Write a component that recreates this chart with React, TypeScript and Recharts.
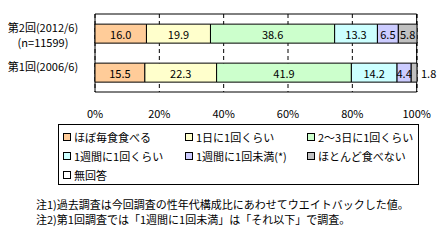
import { Bar, BarChart, CartesianGrid, LabelList, ReferenceArea, XAxis, YAxis } from "recharts";

const categories = ["第2回(2012/6)|(n=11599)", "第1回(2006/6)"];
const seriesNames = [
  "ほぼ毎食食べる",
  "1日に1回くらい",
  "2～3日に1回くらい",
  "1週間に1回くらい",
  "1週間に1回未満(*)",
  "ほとんど食べない",
  "無回答",
];
const everyMeal = [16.0, 15.5];
const oncePerDay = [19.9, 22.3];
const every2to3Days = [38.6, 41.9];
const oncePerWeek = [13.3, 14.2];
const lessThanWeekly = [6.5, 4.4];
const rarely = [5.8, 1.8];
const noAnswer = [0, 0];
const xTicks = [0, 20, 40, 60, 80, 100];

const colors = ["#FFCC99", "#FFFFCC", "#CCFFCC", "#CCFFFF", "#CCCCFF", "#C0C0C0", "#FFFFFF"];
const keys = ["s0", "s1", "s2", "s3", "s4", "s5", "s6"];
const allSeries = [everyMeal, oncePerDay, every2to3Days, oncePerWeek, lessThanWeekly, rarely, noAnswer];

const data = categories.map((name, i) => {
  const row: Record<string, number | string> = { name };
  allSeries.forEach((s, j) => {
    row[keys[j]] = s[i];
  });
  return row;
});

const font = '"Noto Sans CJK JP", "Noto Sans", sans-serif';

function CategoryTick(props: any) {
  const { y, payload } = props;
  const lines = String(payload.value).split("|");
  return (
    <g>
      {lines.map((l, i) => (
        <text
          key={i}
          x={43}
          y={y - 7 + i * 15}
          textAnchor="middle"
          dominantBaseline="central"
          fontSize={11}
          fontFamily={font}
          fill="#000"
        >
          {l}
        </text>
      ))}
    </g>
  );
}

function SegmentLabel(props: any) {
  const { x, y, width, height, value } = props;
  if (!value) return null;
  const outside = width < 10;
  return (
    <text
      x={outside ? x + width + 4 : x + width / 2}
      y={y + height / 2}
      textAnchor={outside ? "start" : "middle"}
      dominantBaseline="central"
      fontSize={11}
      fontFamily={font}
      fill="#000"
    >
      {Number(value).toFixed(1)}
    </text>
  );
}

export default function App() {
  return (
    <div style={{ position: "absolute", left: 0, top: 0, width: 445, height: 248, background: "#fff", fontFamily: font }}>
      <BarChart
        width={445}
        height={248}
        data={data}
        layout="vertical"
        margin={{ top: 14, right: 28, left: 0, bottom: 0 }}
        barCategoryGap="26%"
      >
        <CartesianGrid horizontal={false} stroke="#000" strokeDasharray="4 3" />
        <XAxis
          type="number"
          domain={[0, 100]}
          ticks={xTicks}
          tickFormatter={(v) => `${v}%`}
          tickLine={false}
          axisLine={false}
          tick={{ fill: "#000", fontSize: 11, fontFamily: font }}
          tickMargin={12}
          height={156}
          interval={0}
        />
        <YAxis
          type="category"
          dataKey="name"
          width={95}
          tickLine={false}
          axisLine={false}
          tick={<CategoryTick />}
        />
        <ReferenceArea x1={0} x2={100} fill="none" stroke="#000" strokeWidth={1} ifOverflow="visible" />
        {keys.map((k, i) => (
          <Bar
            key={k}
            dataKey={k}
            stackId="a"
            fill={colors[i]}
            stroke="#000"
            strokeWidth={1}
            isAnimationActive={false}
          >
            <LabelList dataKey={k} content={<SegmentLabel />} />
          </Bar>
        ))}
      </BarChart>
      <div
        style={{
          position: "absolute",
          left: 58,
          top: 124,
          width: 361,
          height: 61,
          border: "1px solid #000",
          boxSizing: "border-box",
          fontSize: 11,
        }}
      >
        {seriesNames.map((n, i) => (
          <div
            key={n}
            style={{
              position: "absolute",
              left: 4 + (i % 3) * 122,
              top: 4 + Math.floor(i / 3) * 19,
              display: "flex",
              alignItems: "center",
              whiteSpace: "nowrap",
              lineHeight: "16px",
            }}
          >
            <span
              style={{
                display: "inline-block",
                width: 6,
                height: 6,
                border: "1px solid #000",
                background: colors[i],
                marginRight: 3,
              }}
            />
            {n}
          </div>
        ))}
      </div>
      <div style={{ position: "absolute", left: 36, top: 197, fontSize: 11, lineHeight: "15px", whiteSpace: "nowrap" }}>
        <div>注1)過去調査は今回調査の性年代構成比にあわせてウエイトバックした値。</div>
        <div>注2)第1回調査では「1週間に1回未満」は「それ以下」で調査。</div>
      </div>
    </div>
  );
}
